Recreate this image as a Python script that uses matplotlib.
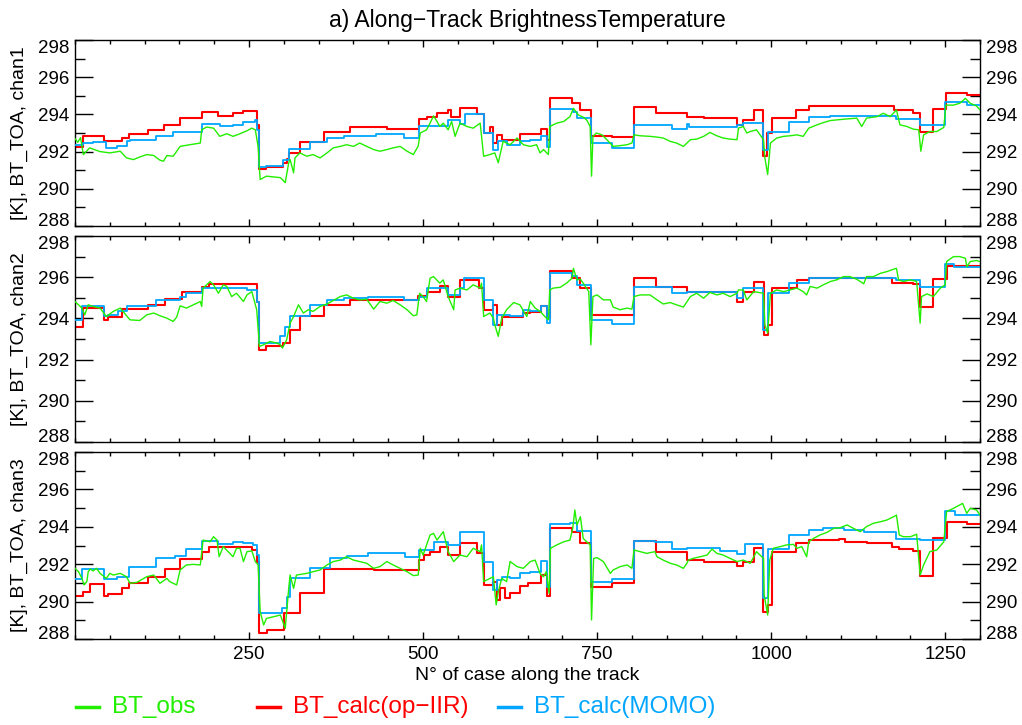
import matplotlib
matplotlib.use("Agg")
import matplotlib.pyplot as plt
from matplotlib.lines import Line2D
from matplotlib.ticker import MultipleLocator, FixedLocator

plt.rcParams['font.family'] = ['Liberation Sans', 'DejaVu Sans']

GREEN = '#22ee00'
RED = '#ff0000'
BLUE = '#00a6ff'

# ---- channel 1 ----
c1_obs_x = [0, 4, 8, 12, 21, 36, 50, 65, 74, 84, 93, 103, 113, 122, 127, 132, 141, 151, 165, 180,
            182, 189, 199, 208, 218, 227, 237, 247, 254, 259, 263, 266, 271, 275, 285, 295, 302, 307,
            309, 314, 316, 323, 333, 342, 352, 362, 371, 381, 390, 400, 409, 419, 429, 438, 448, 457,
            467, 477, 486, 493, 496, 505, 510, 515, 520, 524, 529, 536, 541, 546, 553, 563, 572, 582,
            587, 596, 603, 608, 615, 625, 635, 644, 654, 663, 668, 673, 680, 682, 692, 702, 711, 716,
            723, 730, 735, 740, 742, 744, 749, 757, 764, 773, 783, 793, 800, 803, 812, 826, 836, 845,
            855, 864, 874, 884, 893, 903, 912, 922, 931, 941, 951, 953, 960, 965, 970, 979, 989, 991,
            995, 999, 1008, 1018, 1027, 1037, 1046, 1054, 1066, 1075, 1085, 1104, 1123, 1130, 1137,
            1152, 1161, 1171, 1180, 1185, 1195, 1204, 1212, 1215, 1219, 1228, 1238, 1248, 1251, 1262,
            1271, 1279, 1286, 1295, 1300]
c1_obs_y = [292.7, 292.5, 292.75, 291.84, 292.2, 292.0, 291.93, 292.02, 291.66, 291.57, 291.71, 291.84,
            291.79, 291.54, 291.48, 291.79, 291.75, 292.28, 292.37, 292.46, 293.17, 293.32, 293.26,
            292.82, 292.96, 292.82, 292.96, 293.12, 293.26, 293.17, 292.28, 290.5, 290.6, 290.68,
            290.64, 290.6, 290.33, 291.4, 291.57, 290.86, 291.66, 291.93, 291.75, 291.84, 291.66,
            291.93, 292.2, 292.28, 292.37, 292.28, 292.46, 292.28, 292.11, 292.02, 292.11, 292.2,
            292.28, 292.02, 291.84, 292.3, 293.0, 293.17, 293.53, 293.92, 293.62, 293.35, 293.53,
            293.17, 293.62, 292.82, 293.53, 293.35, 293.26, 293.53, 291.75, 291.84, 291.93, 291.4,
            292.55, 292.37, 292.73, 292.37, 292.28, 292.37, 291.93, 292.11, 291.84, 293.35, 293.53,
            293.62, 293.88, 294.33, 293.97, 293.85, 293.7, 293.35, 290.68, 292.82, 293.0, 292.9,
            292.64, 292.28, 292.32, 292.37, 292.46, 292.9, 292.85, 292.82, 292.78, 292.73, 292.55,
            292.46, 292.28, 292.64, 292.67, 292.82, 293.03, 292.85, 292.73, 292.67, 292.64, 293.26,
            293.35, 293.0, 293.08, 293.17, 292.64, 291.66, 290.77, 292.46, 292.73, 292.82, 292.85,
            292.9, 292.82, 293.26, 293.44, 293.56, 293.67, 293.74, 293.8, 293.35, 293.8, 293.88,
            294.06, 293.88, 294.24, 293.44, 293.35, 293.21, 293.17, 292.02, 292.9, 293.08, 293.08,
            293.3, 294.5, 294.5, 294.6, 294.86, 294.6, 294.45, 294.24]
c1_iir_x = [0, 12, 42, 67, 77, 105, 128, 151, 182, 206, 227, 242, 261, 265, 275, 299, 304, 307, 323,
            357, 395, 448, 494, 505, 520, 536, 540, 553, 577, 587, 596, 601, 606, 613, 639, 670, 678,
            682, 714, 725, 741, 771, 803, 835, 879, 903, 951, 960, 976, 989, 994, 1001, 1036, 1054,
            1097, 1176, 1204, 1214, 1233, 1251, 1281, 1300]
c1_iir_y = [292.25, 292.82, 292.55, 292.73, 292.96, 293.17, 293.42, 293.83, 294.13, 293.94, 294.06,
            294.2, 293.45, 291.07, 291.18, 291.4, 291.6, 291.9, 292.5, 293.08, 293.3, 293.24, 293.74,
            293.88, 294.06, 294.24, 293.85, 294.35, 294.03, 293.0, 293.3, 292.46, 292.9, 292.64,
            292.94, 293.2, 292.6, 294.86, 294.63, 294.24, 292.85, 292.76, 294.38, 294.06, 293.85,
            293.8, 293.44, 293.7, 294.24, 291.75, 293.0, 293.8, 294.24, 294.45, 294.47, 294.24, 294.1,
            293.03, 294.3, 295.13, 295.04, 295.04]
c1_momo_x = [0, 12, 26, 45, 60, 74, 79, 117, 141, 182, 208, 227, 242, 259, 261, 265, 275, 299, 307,
             337, 362, 386, 433, 472, 494, 536, 553, 560, 587, 601, 607, 620, 639, 654, 670, 678, 683,
             716, 721, 741, 771, 803, 857, 879, 882, 951, 960, 989, 996, 1025, 1054, 1085, 1180,
             1214, 1250, 1281, 1300]
c1_momo_y = [292.37, 292.46, 292.5, 292.2, 292.3, 292.55, 292.6, 292.85, 293.08, 293.47, 293.35,
             293.44, 293.6, 293.7, 293.17, 291.18, 291.2, 291.57, 292.14, 292.5, 292.73, 292.85,
             292.94, 292.73, 293.35, 293.7, 293.5, 294.0, 293.0, 292.1, 292.55, 292.37, 292.55,
             292.64, 292.85, 292.25, 294.3, 294.15, 293.8, 292.46, 292.2, 293.44, 293.2, 293.5,
             293.3, 293.44, 293.52, 292.1, 293.08, 293.6, 293.85, 293.92, 293.74, 293.44, 294.68,
             294.5, 294.5]

# ---- channel 2 ----
c2_obs_x = [0, 5, 10, 14, 19, 26, 36, 45, 55, 65, 74, 79, 93, 103, 113, 122, 132, 141, 146, 151, 160,
            170, 180, 182, 184, 194, 199, 206, 213, 218, 225, 232, 242, 247, 254, 261, 265, 271, 280,
            290, 295, 298, 304, 309, 314, 321, 328, 335, 342, 352, 362, 371, 381, 390, 400, 409, 419,
            429, 438, 448, 457, 467, 477, 486, 491, 495, 500, 505, 510, 515, 524, 529, 536, 544, 546,
            553, 563, 572, 582, 584, 587, 591, 596, 601, 603, 608, 613, 620, 630, 639, 649, 654, 661,
            668, 675, 680, 682, 687, 697, 706, 714, 716, 721, 726, 730, 738, 741, 744, 750, 759, 769,
            773, 783, 793, 800, 803, 812, 826, 836, 845, 855, 864, 874, 884, 893, 903, 912, 922, 931,
            941, 951, 953, 960, 965, 975, 989, 991, 995, 999, 1008, 1018, 1027, 1037, 1046, 1051,
            1056, 1066, 1075, 1085, 1094, 1104, 1113, 1123, 1133, 1137, 1147, 1157, 1166, 1176, 1180,
            1183, 1190, 1200, 1209, 1214, 1216, 1224, 1233, 1243, 1250, 1252, 1262, 1271, 1279, 1281,
            1286, 1295, 1300]
c2_obs_y = [294.82, 294.66, 294.5, 294.17, 294.66, 294.58, 294.5, 294.09, 294.34, 294.5, 294.13,
            293.93, 293.9, 294.17, 294.26, 294.13, 294.01, 293.85, 294.06, 294.61, 294.5, 294.66,
            294.82, 294.58, 295.47, 295.79, 295.63, 295.22, 295.63, 295.55, 295.06, 295.22, 294.82,
            295.14, 295.3, 294.42, 292.64, 292.72, 292.88, 292.8, 292.72, 292.56, 292.96, 293.77,
            294.09, 294.66, 294.26, 294.42, 294.34, 294.58, 294.7, 294.87, 295.06, 295.14, 294.98,
            294.9, 294.93, 294.45, 294.82, 294.74, 294.87, 294.66, 294.42, 294.13, 294.17, 295.22,
            295.06, 294.82, 295.95, 296.03, 295.71, 295.87, 295.06, 294.42, 295.38, 295.47, 295.38,
            295.63, 295.47, 295.71, 294.09, 294.17, 294.26, 294.01, 293.69, 293.13, 294.01, 294.42,
            294.77, 294.66, 294.09, 294.82, 294.5, 294.34, 294.09, 293.93, 295.38, 295.47, 295.51,
            295.71, 295.95, 296.43, 295.87, 295.9, 295.71, 295.3, 292.72, 295.06, 295.14, 294.9,
            294.9, 294.55, 294.42, 294.5, 294.45, 295.06, 295.14, 295.14, 294.9, 294.7, 294.77,
            294.66, 294.55, 295.06, 295.22, 294.98, 295.26, 295.14, 295.22, 295.06, 295.22, 295.38,
            295.38, 294.9, 295.3, 295.22, 293.69, 293.29, 295.22, 295.38, 295.3, 295.38, 295.47,
            295.3, 295.14, 295.55, 295.47, 295.63, 295.79, 295.87, 296.03, 296.03, 295.9, 295.68,
            296.03, 296.03, 296.19, 296.27, 296.39, 296.43, 295.87, 295.79, 295.87, 295.79, 293.77,
            295.06, 295.19, 295.06, 295.47, 295.63, 296.76, 297.0, 297.0, 296.92, 296.51, 296.76,
            296.81, 296.76]
c2_iir_x = [0, 11, 41, 48, 67, 105, 129, 153, 182, 192, 261, 265, 275, 299, 309, 323, 357, 395, 493,
            505, 524, 536, 553, 580, 587, 601, 606, 613, 644, 654, 670, 678, 682, 714, 726, 741, 803,
            835, 879, 951, 960, 976, 990, 995, 1001, 1037, 1054, 1173, 1204, 1214, 1233, 1252, 1300]
c2_iir_y = [293.58, 294.5, 293.93, 294.06, 294.46, 294.66, 294.95, 295.27, 295.51, 295.66, 294.82,
            292.48, 292.64, 292.8, 293.42, 294.13, 294.66, 294.87, 295.1, 295.3, 295.55, 295.06,
            295.87, 295.47, 294.42, 294.66, 293.7, 294.06, 294.26, 294.3, 294.58, 294.01, 296.3,
            295.95, 295.47, 294.17, 295.95, 295.51, 295.3, 294.82, 295.3, 295.79, 293.2, 293.69,
            295.47, 295.84, 295.95, 295.74, 295.68, 294.55, 295.9, 296.55, 296.55]
c2_momo_x = [0, 10, 41, 48, 62, 74, 117, 151, 160, 182, 237, 247, 261, 265, 295, 302, 309, 337, 362,
             386, 421, 472, 494, 505, 536, 553, 559, 587, 601, 606, 625, 644, 654, 670, 678, 682, 714,
             721, 741, 771, 803, 857, 879, 951, 960, 989, 996, 1025, 1054, 1180, 1214, 1250, 1262,
             1300]
c2_momo_y = [293.9, 294.58, 294.13, 294.17, 294.37, 294.6, 294.9, 295.03, 295.22, 295.5, 295.47,
             295.38, 294.82, 292.8, 293.13, 293.6, 294.13, 294.66, 294.87, 294.98, 295.06, 294.87,
             295.06, 295.47, 295.14, 295.47, 295.95, 294.87, 293.69, 294.17, 294.13, 294.42, 294.38,
             294.58, 293.8, 296.19, 296.06, 295.63, 293.93, 293.74, 295.51, 295.25, 295.3, 294.98,
             295.47, 293.45, 295.25, 295.74, 295.98, 295.87, 295.51, 296.64, 296.5, 296.5]

# ---- channel 3 ----
c3_obs_x = [0, 5, 10, 13, 17, 19, 22, 26, 31, 36, 45, 50, 55, 65, 74, 79, 89, 103, 113, 122, 132, 136,
            146, 151, 160, 170, 180, 184, 194, 199, 204, 207, 213, 220, 227, 232, 237, 242, 247, 254,
            259, 263, 266, 271, 275, 285, 295, 302, 307, 309, 314, 318, 333, 342, 352, 362, 371, 381,
            390, 400, 409, 419, 429, 438, 448, 457, 467, 477, 486, 493, 496, 500, 510, 515, 520, 529,
            536, 544, 553, 563, 572, 582, 584, 587, 596, 601, 605, 608, 613, 620, 625, 635, 644, 654,
            661, 668, 673, 677, 681, 683, 692, 702, 711, 715, 718, 721, 726, 730, 735, 740, 742, 745,
            750, 759, 769, 773, 783, 793, 800, 803, 812, 821, 833, 836, 845, 855, 864, 874, 879, 881,
            888, 898, 908, 915, 922, 931, 941, 951, 960, 970, 979, 984, 989, 990, 995, 998, 1003,
            1013, 1022, 1032, 1037, 1044, 1051, 1054, 1061, 1070, 1080, 1090, 1099, 1109, 1118, 1128,
            1137, 1147, 1157, 1166, 1176, 1180, 1184, 1190, 1200, 1209, 1214, 1219, 1228, 1238, 1248,
            1252, 1262, 1271, 1275, 1281, 1286, 1295, 1300]
c3_obs_y = [291.78, 291.6, 291.24, 290.89, 291.07, 291.6, 291.74, 291.64, 291.78, 291.51, 291.24,
            291.51, 291.42, 291.51, 291.33, 290.98, 291.03, 291.33, 291.42, 290.98, 291.24, 291.07,
            290.89, 291.69, 291.96, 291.99, 291.96, 293.29, 293.2, 293.47, 293.29, 292.4, 292.94,
            292.67, 292.4, 292.85, 292.85, 292.14, 292.67, 292.71, 292.14, 291.96, 289.46, 288.75,
            289.1, 289.19, 289.28, 288.57, 290.71, 291.42, 290.71, 291.42, 291.51, 291.6, 291.69,
            291.96, 292.14, 292.22, 292.4, 292.22, 292.14, 292.05, 291.78, 291.87, 292.14, 291.96,
            291.78, 291.6, 291.39, 291.42, 292.85, 292.49, 293.56, 293.65, 293.29, 293.74, 292.67,
            292.14, 292.49, 292.4, 292.85, 292.67, 293.03, 291.07, 291.24, 291.33, 289.82, 290.53,
            291.24, 291.07, 292.14, 291.87, 291.78, 292.14, 292.22, 291.5, 291.33, 291.6, 290.44,
            292.85, 293.03, 293.2, 293.29, 293.92, 294.9, 294.1, 294.54, 293.38, 293.2, 293.03,
            289.02, 292.31, 292.35, 292.14, 291.51, 291.69, 291.87, 291.96, 291.78, 292.76, 292.67,
            292.58, 292.67, 292.4, 292.22, 292.05, 291.96, 291.78, 292.05, 292.22, 292.31, 292.4,
            292.49, 292.81, 292.58, 292.49, 292.31, 292.14, 292.22, 292.05, 292.67, 292.49, 292.31,
            290.35, 289.28, 292.22, 292.85, 292.94, 293.03, 293.06, 292.85, 292.94, 292.4, 293.2,
            293.38, 293.56, 293.7, 293.92, 293.95, 294.1, 293.92, 293.74, 294.01, 294.19, 294.27,
            294.36, 294.54, 294.63, 293.56, 293.47, 293.47, 293.6, 291.42, 291.96, 292.67, 292.76,
            293.2, 294.81, 294.99, 295.17, 295.25, 294.72, 294.99, 294.9, 294.63]
c3_iir_x = [0, 12, 22, 42, 48, 67, 77, 105, 129, 151, 182, 192, 254, 261, 265, 276, 300, 323, 357,
            429, 494, 501, 510, 524, 536, 553, 577, 587, 601, 606, 611, 618, 625, 639, 651, 670, 678,
            682, 714, 725, 741, 771, 803, 835, 879, 903, 951, 960, 976, 989, 995, 1001, 1036, 1054,
            1097, 1106, 1137, 1173, 1183, 1204, 1214, 1233, 1252, 1281, 1300]
c3_iir_y = [290.32, 290.53, 290.92, 290.32, 290.39, 290.71, 290.98, 291.3, 291.74, 292.26, 292.63,
            292.9, 292.76, 292.1, 288.3, 288.48, 289.37, 290.44, 291.74, 291.69, 292.22, 292.49,
            292.67, 292.94, 292.49, 293.12, 292.58, 290.9, 291.07, 290.09, 290.71, 290.21, 290.44,
            290.85, 290.98, 291.42, 290.3, 293.95, 293.7, 293.12, 290.8, 290.98, 293.26, 292.67,
            292.22, 292.14, 291.92, 292.14, 292.88, 289.46, 289.82, 292.67, 293.12, 293.29, 293.33,
            293.2, 293.12, 292.94, 292.81, 292.7, 291.37, 293.38, 294.27, 294.15, 294.15]
c3_momo_x = [0, 10, 42, 60, 77, 117, 144, 160, 182, 206, 227, 242, 256, 261, 265, 297, 304, 309, 337,
             366, 390, 421, 474, 494, 515, 536, 553, 587, 601, 606, 613, 625, 639, 654, 670, 678, 682,
             711, 721, 741, 771, 803, 833, 857, 879, 927, 951, 962, 989, 996, 1025, 1054, 1075, 1104,
             1133, 1180, 1214, 1250, 1264, 1300]
c3_momo_y = [291.21, 291.74, 291.19, 291.33, 291.87, 292.31, 292.44, 292.81, 293.24, 293.06, 293.2,
             293.12, 293.03, 292.5, 289.37, 289.64, 290.26, 291.24, 291.78, 292.31, 292.44, 292.58,
             292.4, 292.76, 293.2, 293.03, 293.7, 292.14, 290.62, 291.15, 291.33, 291.24, 291.51,
             291.6, 292.17, 290.8, 294.15, 294.19, 293.78, 291.07, 291.19, 293.24, 293.17, 292.81,
             292.85, 292.7, 292.53, 293.06, 290.17, 292.81, 293.56, 293.83, 293.92, 293.83, 293.74,
             293.35, 293.29, 294.85, 294.63, 294.63]

channels = ['chan1', 'chan2', 'chan3']
obs = [(c1_obs_x, c1_obs_y), (c2_obs_x, c2_obs_y), (c3_obs_x, c3_obs_y)]
iir = [(c1_iir_x, c1_iir_y), (c2_iir_x, c2_iir_y), (c3_iir_x, c3_iir_y)]
momo = [(c1_momo_x, c1_momo_y), (c2_momo_x, c2_momo_y), (c3_momo_x, c3_momo_y)]
x_ticks = [250, 500, 750, 1000, 1250]
y_ticks = [288, 290, 292, 294, 296, 298]

fig = plt.figure(figsize=(10.22, 7.25), dpi=100)

# axes boxes in pixels: top, bottom
boxes = [(40, 226), (236, 442), (452, 639)]
left_px, right_px = 75, 980
W, H = 1022.0, 725.0

axes = []
for i, (top, bot) in enumerate(boxes):
    ax = fig.add_axes([left_px / W, 1 - bot / H, (right_px - left_px) / W, (bot - top) / H])
    ax.plot(*iir[i], color=RED, lw=1.5, drawstyle='steps-post', zorder=2)
    ax.plot(*momo[i], color=BLUE, lw=1.3, drawstyle='steps-post', zorder=3)
    ax.plot(*obs[i], color=GREEN, lw=1.0, zorder=4)

    ax.set_xlim(0, 1300)
    ax.set_ylim(288, 298)
    ax.yaxis.set_major_locator(FixedLocator(y_ticks))
    ax.yaxis.set_minor_locator(MultipleLocator(1))
    ax.xaxis.set_major_locator(FixedLocator(x_ticks))
    ax.xaxis.set_minor_locator(MultipleLocator(50))
    ax.tick_params(axis='y', which='both', direction='in', left=True, right=True,
                   labelleft=True, labelright=True, labelsize=13.5, pad=4)
    ax.tick_params(axis='y', which='major', length=13, width=1)
    ax.tick_params(axis='y', which='minor', length=7, width=1)
    ax.tick_params(axis='x', which='both', direction='in', bottom=True, top=True,
                   labelsize=13.5, pad=5)
    ax.tick_params(axis='x', which='major', length=5, width=1)
    ax.tick_params(axis='x', which='minor', length=3, width=1)
    if i < 2:
        ax.tick_params(axis='x', labelbottom=False)
    ax.set_ylabel('[K], BT_TOA, ' + channels[i], fontsize=14, labelpad=7)
    for sp in ax.spines.values():
        sp.set_linewidth(1.0)
    axes.append(ax)

axes[2].set_xlabel('N\u00b0 of case along the track', fontsize=14, labelpad=3)
fig.text((left_px + right_px) / 2 / W, 1 - 20 / H, 'a) Along\u2212Track BrightnessTemperature',
         ha='center', va='center', fontsize=16.5)

# legend along the bottom
legend_items = [('BT_obs', GREEN, 76), ('BT_calc(op\u2212IIR)', RED, 257), ('BT_calc(MOMO)', BLUE, 498)]
ly = 1 - 707 / H
for label, col, x0 in legend_items:
    fig.add_artist(Line2D([x0 / W, (x0 + 23) / W], [ly, ly], color=col, lw=2.5,
                          transform=fig.transFigure))
    fig.text((x0 + 36) / W, ly, label, color=col, fontsize=17.5, va='center', ha='left')

# the extreme y labels sit inside the axis range, as in the original
fig.canvas.draw()
for ax in axes:
    for t in ax.yaxis.get_major_ticks():
        if abs(t.get_loc() - 288) < 1e-6:
            t.label1.set_verticalalignment('baseline')
            t.label2.set_verticalalignment('baseline')
        elif abs(t.get_loc() - 298) < 1e-6:
            t.label1.set_verticalalignment('top')
            t.label2.set_verticalalignment('top')

fig.savefig('out.png', dpi=100)
